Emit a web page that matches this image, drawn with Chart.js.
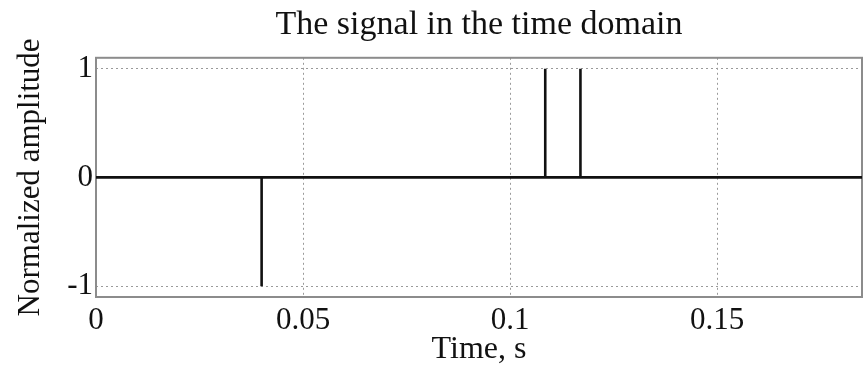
<!DOCTYPE html>
<html>
<head>
<meta charset="utf-8">
<script src="https://cdn.jsdelivr.net/npm/chart.js@4"></script>
<style>
  body { margin: 0; background: #fff; }
  #wrap { width: 864px; height: 366px; }
</style>
</head>
<body>
<div id="wrap"><canvas id="chartSignal"></canvas></div>
<script>
// pulses in the signal (time in s, normalized amplitude)
const pulseTimes = [0.04, 0.1085, 0.117];
const pulseAmps = [-1, 1, 1];
const timeStart = 0;
const timeEnd = 0.185;
const xTicks = [0, 0.05, 0.1, 0.15];
const yTicks = [-1, 0, 1];

const buildSignal = () => {
    const points = [{ x: timeStart, y: 0 }];
    pulseTimes.forEach((t, i) => {
        points.push({ x: t, y: 0 }, { x: t, y: pulseAmps[i] }, { x: t, y: 0 });
    });
    points.push({ x: timeEnd, y: 0 });
    return points;
};

const serif = 'Liberation Serif, Times New Roman, serif';

// box round the plot area (top and right sides too)
const frame = {
    id: 'frame',
    beforeDatasetsDraw(chart) {
        const { ctx, chartArea: a } = chart;
        ctx.save();
        ctx.strokeStyle = '#8c8c8c';
        ctx.lineWidth = 2;
        ctx.strokeRect(a.left, a.top, a.right - a.left, a.bottom - a.top);
        ctx.restore();
    }
};

const canvas = document.getElementById('chartSignal');
new Chart(canvas.getContext('2d'), {
    type: 'line',
    data: {
        datasets: [{
            data: buildSignal(),
            borderColor: '#111',
            borderWidth: 2.6,
            pointRadius: 0,
            tension: 0
        }]
    },
    options: {
        responsive: true,
        maintainAspectRatio: false,
        animation: false,
        layout: { padding: { left: 10, right: 2, top: 0, bottom: 0 } },
        scales: {
            x: {
                type: 'linear',
                min: timeStart,
                max: timeEnd,
                afterBuildTicks: (axis) => { axis.ticks = xTicks.map(v => ({ value: v })); },
                afterFit: (axis) => { axis.height = 69; },
                grid: { color: '#9a9a9a', drawTicks: false, lineWidth: 1 },
                border: { display: false, dash: [2, 3] },
                ticks: {
                    color: '#111',
                    padding: 5,
                    maxRotation: 0,
                    font: { family: serif, size: 31 },
                    callback: (v) => String(v)
                },
                title: {
                    display: true,
                    text: 'Time, s',
                    color: '#111',
                    padding: { top: 0, bottom: 0 },
                    font: { family: serif, size: 32, lineHeight: 1.0 }
                }
            },
            y: {
                type: 'linear',
                min: -1.1,
                max: 1.1,
                afterBuildTicks: (axis) => { axis.ticks = yTicks.map(v => ({ value: v })); },
                afterFit: (axis) => { axis.width = 86; },
                grid: { color: '#9a9a9a', drawTicks: false, lineWidth: 1 },
                border: { display: false, dash: [2, 3] },
                ticks: {
                    color: '#111',
                    padding: 3,
                    font: { family: serif, size: 31 },
                    callback: (v) => String(v)
                },
                title: {
                    display: true,
                    text: 'Normalized amplitude',
                    color: '#111',
                    padding: { top: 2, bottom: 0 },
                    font: { family: serif, size: 31 }
                }
            }
        },
        plugins: {
            legend: { display: false },
            tooltip: { enabled: false },
            title: {
                display: true,
                text: 'The signal in the time domain',
                fullSize: false,
                color: '#111',
                padding: { top: 5, bottom: 12 },
                font: { family: serif, size: 34, weight: 'normal' }
            }
        }
    },
    plugins: [frame]
});
</script>
</body>
</html>
